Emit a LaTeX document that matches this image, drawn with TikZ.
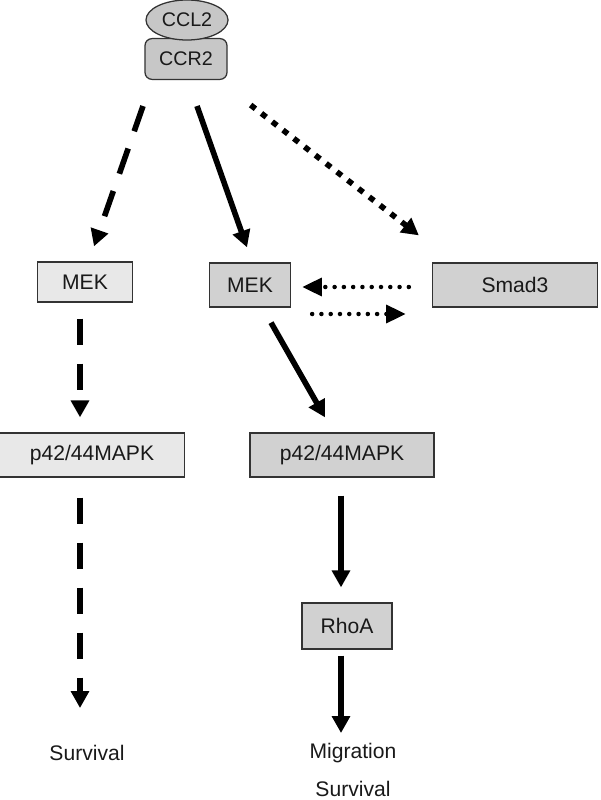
\documentclass[tikz,border=0pt]{standalone}
\usepackage{fontspec}
\setmainfont{Liberation Sans}
\usetikzlibrary{shapes.geometric, arrows.meta, calc}

\begin{document}
\begin{tikzpicture}[
    x=0.025cm, y=-0.025cm,
    box/.style={
        rectangle,
        draw=black!80,
        fill=black!18,
        line width=0.9pt,
        minimum height=1.1cm,
        font=\fontsize{15}{18}\selectfont,
        text=black!90
    },
    box light/.style={
        box,
        fill=black!9
    },
    receptor/.style={
        draw=black!80,
        fill=black!22,
        line width=0.9pt,
        minimum width=2.05cm,
        minimum height=1.02cm,
        font=\fontsize{14}{17}\selectfont,
        text=black!90
    },
    outcome/.style={
        align=center,
        font=\fontsize{15}{18}\selectfont,
        text=black!90
    },
    solid arrow/.style={
        -{Triangle[length=12pt,width=12.5pt]},
        line width=4pt
    },
    dash arrow/.style={
        solid arrow,
        dash pattern=on 19pt off 13pt
    },
    dot arrow/.style={
        solid arrow,
        dash pattern=on 4.3pt off 5.4pt
    },
    round dot arrow/.style={
        -{Triangle[length=14pt,width=12.5pt]},
        line width=3.2pt,
        line cap=round,
        dash pattern=on 0pt off 6.6pt
    }
]
\useasboundingbox (0,0) rectangle (600,800);

% receptor
\node[receptor, rectangle, rounded corners=5pt] (ccr2) at (186,59) {CCR2};
\node[receptor, ellipse, inner sep=0pt, minimum width=2.05cm, minimum height=1cm] (ccl2) at (187,20) {CCL2};

% kinases
\node[box light, minimum width=2.375cm, minimum height=1cm] (mekL) at (85,282) {MEK};
\node[box, minimum width=2.025cm] (mekM) at (250,285) {MEK};
\node[box, minimum width=4.125cm] (smad) at (515,285) {Smad3};
\node[box light, minimum width=4.625cm] (mapkL) at (92,455) {p42/44MAPK};
\node[box, minimum width=4.6cm] (mapkM) at (342,455) {p42/44MAPK};
\node[box, minimum width=2.25cm, minimum height=1.15cm] (rhoa) at (347,626) {RhoA};

% outcomes
\node[outcome] (survL) at (87,753) {Survival};
\node[outcome] (migr) at (353,770) {Migration\\[9.5pt]Survival};

% arrows
\draw[dash arrow] ($(ccr2.south)+(-43,26)$) -- ($(mekL.north)+(9,-15)$);
\draw[solid arrow] ($(ccr2.south)+(11,26)$) -- ($(mekM.north)+(-3,-15)$);
\draw[dot arrow] ($(ccr2.south east)+(23,25)$) -- ($(smad.north west)+(-13,-27)$);
\draw[round dot arrow] ($(smad.west)+(-23,2)$) -- ($(mekM.east)+(11,2)$);
\draw[round dot arrow] ($(mekM.east)+(21,29)$) -- ($(smad.west)+(-26,29)$);
\draw[dash arrow] ($(mekL.south)+(-5,16)$) -- ($(mapkL.north)+(-12,-15)$);
\draw[solid arrow] ($(mekM.south)+(21,15)$) -- ($(mapkM.north)+(-17,-15)$);
\draw[dash arrow] ($(mapkL.south)+(-12,20)$) -- ($(survL.center)+(-7,-45)$);
\draw[solid arrow] ($(mapkM.south)+(-1,18)$) -- ($(rhoa.north)+(-6,-15)$);
\draw[solid arrow] ($(rhoa.south)+(-6,6)$) -- ($(migr.center)+(-12,-37)$);

\end{tikzpicture}
\end{document}
